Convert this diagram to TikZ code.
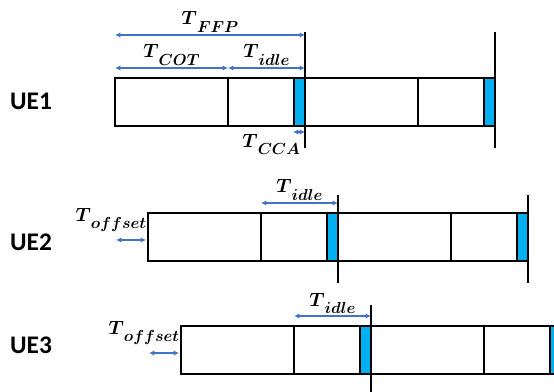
\documentclass[tikz,border=0pt]{standalone}
\usepackage{amsmath,amssymb}
\usepackage{fontspec}
\newfontfamily\uefont{Carlito}
\usetikzlibrary{arrows.meta,calc,positioning}
\definecolor{ccablue}{HTML}{00B0F0}
\definecolor{spanblue}{HTML}{4472C4}
\newcommand{\tlab}[1]{{\fontsize{15.5}{17}\selectfont$\boldsymbol{T}$}\raisebox{-5.5pt}{\fontsize{12.5}{14}\selectfont$\boldsymbol{#1}$}}

\begin{document}
\begin{tikzpicture}[x=0.75pt,y=-0.75pt,>={Latex[length=4pt,width=4pt]},
  slot/.style={draw=black,line width=1.5pt},
  ccaslot/.style={slot,fill=ccablue},
  edgeline/.style={black,line width=0.9pt},
  dimspan/.style={<->,spanblue,line width=1pt},
  tl/.style={inner sep=0.5pt,text=black},
  ue/.style={font=\uefont\bfseries\fontsize{19}{21}\selectfont}]
\clip (0,0) rectangle (554,392);
% three UEs, two FFPs each
\foreach \row/\off/\ytop/\rise/\ly in {1/0/78/46/101,2/33/213/18/242,3/66/326/21/345}{
  \foreach \k in {0,1}{
    \pgfmathsetmacro{\px}{115+\off+190*\k}
    \coordinate (r\row p\k) at (\px,\ytop);
    \coordinate (r\row c\k) at (\px+113,\ytop);
    \coordinate (r\row e\k) at (\px+190,\ytop);
    \draw[edgeline] ($(r\row e\k)+(0,-\rise)$) -- ($(r\row e\k)+(0,70)$);
    \draw[slot] (r\row p\k) rectangle ($(r\row e\k)+(0,48)$);
    \draw[slot] (r\row c\k) -- ++(0,48);
    \draw[ccaslot] ($(r\row e\k)+(-11,0)$) rectangle ($(r\row e\k)+(0,48)$);
  }
  \node[ue] (ue\row) at (31,\ly) {UE\row};
  \draw[dimspan] ($(r\row c0)+(0,-10)$) -- ($(r\row e0)+(0,-10)$) node[midway,above=1pt,tl] {\tlab{idle}};
}
% UE1 spans
\draw[dimspan] ($(r1p0)+(0,-43)$) -- ($(r1e0)+(0,-43)$) node[midway,above=1pt,tl] {\tlab{FFP}};
\draw[dimspan] ($(r1p0)+(0,-10)$) -- ($(r1c0)+(0,-10)$) node[midway,above=1pt,tl] {\tlab{COT}};
\draw[dimspan] ($(r1e0)+(-12,54)$) -- ($(r1e0)+(0,54)$);
\node[tl,anchor=north east] (tcca) at ($(r1e0)+(-4,55)$) {\tlab{CCA}};
% offsets
\foreach \row in {2,3}{
  \draw[dimspan] ($(r\row p0)+(-32,27)$) -- ($(r\row p0)+(-2,27)$);
  \node[tl,anchor=south east] (toff\row) at ($(r\row p0)+(-1,20)$) {\tlab{offset}};
}
\end{tikzpicture}
\end{document}
